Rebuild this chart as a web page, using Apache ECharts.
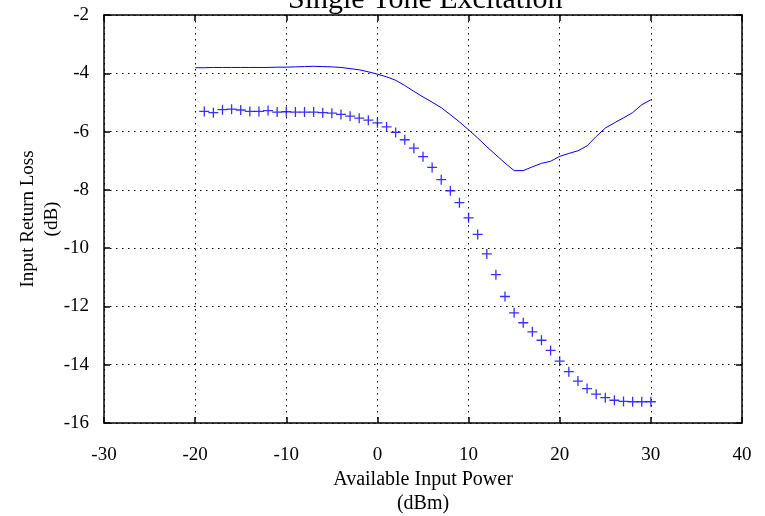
<!DOCTYPE html>
<html>
<head>
<meta charset="utf-8">
<title>Single Tone Excitation</title>
<script src="https://cdn.jsdelivr.net/npm/echarts@6/dist/echarts.min.js"></script>
<style>
    html, body { margin: 0; padding: 0; background: #fff; }
    #chart { width: 765px; height: 516px; }
</style>
</head>
<body>
<div id="chart"></div>
<script>
// 曲线 (实线) 的横坐标与数值
const lineX = [-20, -19, -18, -17, -16, -15, -14, -13, -12, -11, -10, -9, -8, -7, -6, -5, -4, -3, -2, -1,
    0, 1, 2, 3, 4, 5, 6, 7, 8, 9, 10, 11, 12, 13, 14, 15, 16, 17, 18, 19, 20,
    21, 22, 23, 24, 25, 26, 27, 28, 29, 30];
const lineY = [-3.81, -3.81, -3.80, -3.80, -3.80, -3.80, -3.80, -3.80, -3.80, -3.79, -3.79, -3.78, -3.77, -3.76, -3.77, -3.78, -3.80, -3.84, -3.88, -3.95,
    -4.03, -4.12, -4.24, -4.42, -4.62, -4.81, -4.99, -5.18, -5.42, -5.67, -5.94, -6.22, -6.52, -6.80, -7.08, -7.34, -7.34, -7.21, -7.09, -7.02, -6.85,
    -6.75, -6.66, -6.49, -6.17, -5.88, -5.70, -5.53, -5.35, -5.08, -4.91];

// 十字标记点的横坐标与数值
const plusX = [-19, -18, -17, -16, -15, -14, -13, -12, -11, -10, -9, -8, -7, -6, -5, -4, -3, -2, -1,
    0, 1, 2, 3, 4, 5, 6, 7, 8, 9, 10, 11, 12, 13, 14, 15, 16, 17, 18, 19, 20,
    21, 22, 23, 24, 25, 26, 27, 28, 29, 30];
const plusY = [-5.31, -5.35, -5.25, -5.23, -5.26, -5.31, -5.31, -5.28, -5.33, -5.32, -5.33, -5.33, -5.33, -5.35, -5.37, -5.41, -5.47, -5.54, -5.61,
    -5.70, -5.84, -6.03, -6.28, -6.57, -6.86, -7.23, -7.65, -8.03, -8.44, -8.96, -9.53, -10.20, -10.91, -11.66, -12.22, -12.56, -12.87, -13.16, -13.51, -13.88,
    -14.24, -14.56, -14.82, -15.01, -15.13, -15.22, -15.26, -15.27, -15.27, -15.27];

// 坐标轴刻度
const xTicks = [-30, -20, -10, 0, 10, 20, 30, 40];
const yTicks = [-16, -14, -12, -10, -8, -6, -4, -2];

const font = 'Liberation Serif';
const blue = '#0000ff';
// 十字形符号
const plusPath = 'path://M4.35,0h1.3v4.35h4.35v1.3h-4.35v4.35h-1.3v-4.35h-4.35v-1.3h4.35z';

const chart = echarts.init(document.getElementById('chart'), null, { renderer: 'canvas' });

// 公共的坐标轴样式
function axisBase(showLabel, showSplit) {
    return {
        type: 'value',
        axisLine: { show: true, onZero: false, lineStyle: { color: '#000', width: 1.5 } },
        axisTick: { show: true, inside: true, length: 6, lineStyle: { color: '#000', width: 1.5 } },
        axisLabel: { show: showLabel, color: '#000', fontFamily: font, fontSize: 19 },
        splitLine: { show: showSplit, lineStyle: { color: '#000', width: 1, type: [1.5, 4.5] } }
    };
}

const xMain = axisBase(true, true);
Object.assign(xMain, {
    position: 'bottom',
    min: xTicks[0], max: xTicks[xTicks.length - 1], interval: 10,
    name: 'Available Input Power\n(dBm)',
    nameLocation: 'middle',
    nameGap: 45,
    nameMoveOverlap: false,
    nameTextStyle: { color: '#000', fontFamily: font, fontSize: 20, lineHeight: 24 }
});
xMain.axisLabel.margin = 23;

const xTop = axisBase(false, false);
Object.assign(xTop, { position: 'top', min: xTicks[0], max: xTicks[xTicks.length - 1], interval: 10 });

const yMain = axisBase(true, true);
Object.assign(yMain, {
    position: 'left',
    min: yTicks[0], max: yTicks[yTicks.length - 1], interval: 2,
    name: 'Input Return Loss\n(dB)',
    nameLocation: 'middle',
    nameGap: 40,
    nameRotate: 90,
    nameMoveOverlap: false,
    nameTextStyle: { color: '#000', fontFamily: font, fontSize: 19, lineHeight: 24 }
});
yMain.axisLabel.margin = 15;

const yRight = axisBase(false, false);
Object.assign(yRight, { position: 'right', min: yTicks[0], max: yTicks[yTicks.length - 1], interval: 2 });

const option = {
    animation: false,
    backgroundColor: '#fff',
    grid: { left: 104, right: 23, top: 15, bottom: 93, outerBoundsMode: 'none' },
    // 标题（被裁掉上半部分）
    graphic: [{
        type: 'text',
        left: 288,
        top: -15,
        style: { text: 'Single Tone Excitation', fill: '#000', font: '30px "Liberation Serif"' }
    }],
    xAxis: [xMain, xTop],
    yAxis: [yMain, yRight],
    series: [
        {
            type: 'line',
            data: lineX.map((x, i) => [x, lineY[i]]),
            showSymbol: false,
            lineStyle: { color: blue, width: 1 },
            z: 3
        },
        {
            type: 'scatter',
            data: plusX.map((x, i) => [x, plusY[i]]),
            symbol: plusPath,
            symbolSize: 10,
            itemStyle: { color: blue },
            z: 4
        }
    ]
};

chart.setOption(option);
</script>
</body>
</html>
